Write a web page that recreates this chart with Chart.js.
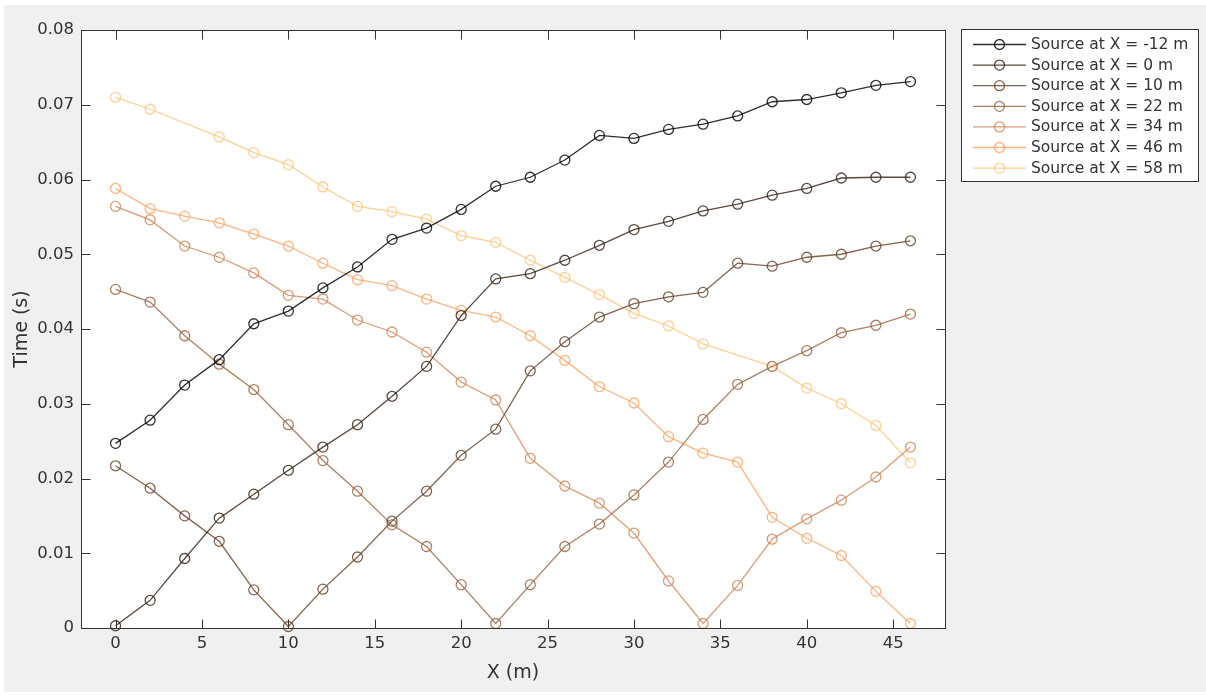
<!DOCTYPE html>
<html><head><meta charset="utf-8">
<script src="https://cdn.jsdelivr.net/npm/chart.js@4.4.1/dist/chart.umd.min.js"></script>
<style>
html,body{margin:0;padding:0;background:#fff;}
#bg{position:absolute;left:4px;top:5px;width:1202px;height:687px;background:#f0f0f0;}
#wrap{position:absolute;left:0;top:0;width:1206px;height:695px;}
</style></head><body>
<div id="bg"></div>
<div id="wrap"><canvas id="c" width="1206" height="695"></canvas></div>
<script>
// ---- data ----
const xPositions = [0,2,4,6,8,10,12,14,16,18,20,22,24,26,28,30,32,34,36,38,40,42,44,46];
const seriesLabels = ['Source at X = -12 m','Source at X = 0 m','Source at X = 10 m','Source at X = 22 m','Source at X = 34 m','Source at X = 46 m','Source at X = 58 m'];
const srcM12 = [0.0247,0.0278,0.0325,0.0359,0.0407,0.0424,0.0455,0.0483,0.0520,0.0535,0.0560,0.0591,0.0603,0.0626,0.0659,0.0655,0.0667,0.0674,0.0685,0.0704,0.0707,0.0716,0.0726,0.0731];
const src0 = [0.0003,0.0037,0.0093,0.0147,0.0179,0.0211,0.0242,0.0272,0.0310,0.0350,0.0418,0.0467,0.0474,0.0492,0.0512,0.0533,0.0544,0.0558,0.0567,0.0579,0.0588,0.0602,0.0603,0.0603];
const src10 = [0.0217,0.0187,0.0150,0.0116,0.0051,0.0002,0.0052,0.0095,0.0143,0.0183,0.0231,0.0266,0.0344,0.0383,0.0416,0.0434,0.0443,0.0449,0.0488,0.0484,0.0496,0.0500,0.0511,0.0518];
const src22 = [0.0453,0.0436,0.0391,0.0353,0.0319,0.0272,0.0224,0.0183,0.0138,0.0109,0.0058,0.0006,0.0058,0.0109,0.0139,0.0178,0.0222,0.0279,0.0326,0.0350,0.0371,0.0395,0.0405,0.0420];
const src34 = [0.0564,0.0546,0.0511,0.0496,0.0475,0.0445,0.0440,0.0412,0.0396,0.0369,0.0329,0.0305,0.0227,0.0190,0.0167,0.0127,0.0063,0.0006,0.0057,0.0119,0.0146,0.0171,0.0202,0.0242];
const src46 = [0.0588,0.0561,0.0551,0.0542,0.0527,0.0511,0.0488,0.0466,0.0458,0.0440,0.0425,0.0416,0.0391,0.0358,0.0323,0.0301,0.0256,0.0234,0.0222,0.0148,0.0120,0.0097,0.0049,0.0006];
const src58 = [0.0710,0.0694,null,0.0657,0.0636,0.0620,0.0590,0.0564,0.0557,0.0547,0.0525,0.0516,0.0492,0.0469,0.0446,0.0421,0.0404,0.0380,null,0.0350,0.0321,0.0300,0.0271,0.0221];
const xTickValues = [0,5,10,15,20,25,30,35,40,45];
const xTickLabels = ['0','5','10','15','20','25','30','35','40','45'];
const yTickValues = [0,0.01,0.02,0.03,0.04,0.05,0.06,0.07,0.08];
const yTickLabels = ['0','0.01','0.02','0.03','0.04','0.05','0.06','0.07','0.08'];

// ---- styles ----
const seriesColors = ['rgba(0,0,0,0.82)','rgba(53,33,21,0.82)','rgba(106,66,42,0.82)','rgba(159,100,64,0.82)','rgba(212,133,85,0.82)','rgba(255,166,106,0.85)','rgba(255,199,127,0.85)'];
const FONT = '"DejaVu Sans", sans-serif';
const TXT = '#333333';
const allSeries = [srcM12, src0, src10, src22, src34, src46, src58];

const datasets = allSeries.map((arr, i) => ({
  label: seriesLabels[i],
  data: xPositions.map((x, j) => ({x: x, y: arr[j]})),
  borderColor: seriesColors[i],
  backgroundColor: 'rgba(0,0,0,0)',
  pointBackgroundColor: 'rgba(0,0,0,0)',
  pointBorderColor: seriesColors[i],
  pointRadius: 5,
  pointBorderWidth: 1.3,
  borderWidth: 1.3,
  tension: 0,
  spanGaps: true,
  clip: false
}));

const framePlugin = {
  id: 'frame',
  beforeDraw(chart) {
    const {ctx, chartArea: a} = chart;
    ctx.save();
    ctx.fillStyle = '#ffffff';
    ctx.fillRect(a.left, a.top, a.right - a.left, a.bottom - a.top);
    ctx.restore();
  },
  afterDatasetsDraw(chart) {
    const {ctx, chartArea: a, scales} = chart;
    ctx.save();
    ctx.strokeStyle = '#333333';
    ctx.lineWidth = 1;
    const L = Math.round(a.left) + 0.5, R = Math.round(a.right) + 0.5;
    const T = Math.round(a.top) + 0.5, B = Math.round(a.bottom) + 0.5;
    ctx.strokeRect(L, T, R - L, B - T);
    const tl = 9;
    ctx.beginPath();
    xTickValues.forEach(v => {
      const px = Math.round(scales.x.getPixelForValue(v)) + 0.5;
      ctx.moveTo(px, B); ctx.lineTo(px, B - tl);
      ctx.moveTo(px, T); ctx.lineTo(px, T + tl);
    });
    yTickValues.forEach(v => {
      const py = Math.round(scales.y.getPixelForValue(v)) + 0.5;
      ctx.moveTo(L, py); ctx.lineTo(L + tl, py);
      ctx.moveTo(R, py); ctx.lineTo(R - tl, py);
    });
    ctx.stroke();
    ctx.restore();
  },
  afterDraw(chart) {
    const ctx = chart.ctx;
    ctx.save();
    const bx = 961.5, by = 29.5, bw = 237, bh = 152;
    ctx.fillStyle = '#ffffff';
    ctx.fillRect(bx, by, bw, bh);
    ctx.strokeStyle = '#333333';
    ctx.lineWidth = 1;
    ctx.strokeRect(bx, by, bw, bh);
    chart.data.datasets.forEach((ds, i) => {
      const y = 44.5 + i * 20.6;
      ctx.strokeStyle = ds.borderColor;
      ctx.lineWidth = 1.3;
      ctx.beginPath();
      ctx.moveTo(973, y); ctx.lineTo(1026, y);
      ctx.stroke();
      ctx.beginPath();
      ctx.arc(999.5, y, 5, 0, Math.PI * 2);
      ctx.stroke();
      ctx.fillStyle = TXT;
      ctx.font = '15.5px ' + FONT;
      ctx.textBaseline = 'middle';
      ctx.textAlign = 'left';
      ctx.fillText(ds.label, 1031, y + 0.5);
    });
    ctx.restore();
  }
};

new Chart(document.getElementById('c'), {
  type: 'line',
  data: {datasets},
  plugins: [framePlugin],
  options: {
    responsive: false,
    animation: false,
    devicePixelRatio: 1,
    layout: {padding: {left: 0, top: 30, right: 261, bottom: 0}},
    plugins: {legend: {display: false}, tooltip: {enabled: false}},
    scales: {
      x: {
        type: 'linear', min: -2, max: 48,
        grid: {display: false, drawTicks: false}, border: {display: false},
        afterBuildTicks: s => { s.ticks = xTickValues.map(v => ({value: v})); },
        afterFit: s => { s.height = 67; },
        ticks: {
          autoSkip: false, maxRotation: 0, padding: 6, color: TXT,
          font: {family: FONT, size: 16.5},
          callback: (v, i) => xTickLabels[i]
        },
        title: {display: true, text: 'X (m)', color: TXT, font: {family: FONT, size: 19}, padding: {top: 0, bottom: 11}}
      },
      y: {
        type: 'linear', min: 0, max: 0.08,
        grid: {display: false, drawTicks: false}, border: {display: false},
        afterBuildTicks: s => { s.ticks = yTickValues.map(v => ({value: v})); },
        afterFit: s => { s.width = 81; },
        ticks: {
          autoSkip: false, padding: 7, color: TXT,
          font: {family: FONT, size: 16.5},
          callback: (v, i) => yTickLabels[i]
        },
        title: {display: true, text: 'Time (s)', color: TXT, font: {family: FONT, size: 19}, padding: {top: 11, bottom: 0}}
      }
    }
  }
});
</script>
</body></html>
